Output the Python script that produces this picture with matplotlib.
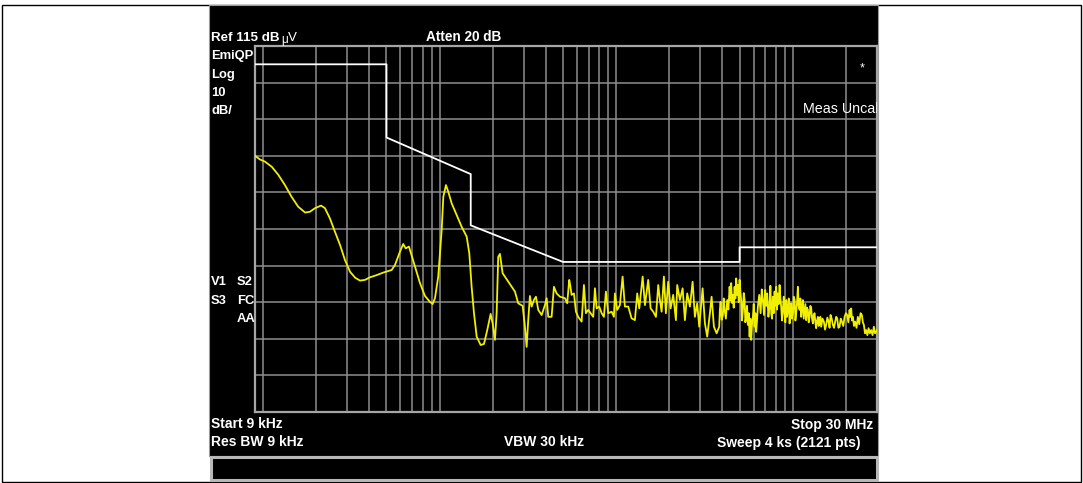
import matplotlib
matplotlib.use("Agg")
import matplotlib.pyplot as plt
from matplotlib.patches import Rectangle
from matplotlib.ticker import LogLocator, NullFormatter, FixedLocator
import numpy as np

# ---------------- data ----------------
# trace, 9 kHz .. 3.83 MHz
trace_freq_low_khz = [
    9.0, 9.6, 10.25, 11.2, 12.2, 13.3, 14.5, 15.8, 17.3, 18.4, 19.7, 21.3, 22.4, 23.9, 25.5,
    27.3, 29.1, 31.1, 33.2, 35.4, 37.8, 40.3, 44.0, 48.0, 53.5, 55.9, 59.6, 62.2, 64.2, 67.0,
    72.5, 77.4, 82.6, 88.1, 91.3, 94.1, 98.2, 102.7, 104.9, 108.6, 111.9, 117.0, 124.9, 133.3,
    142.3, 147.2, 151.8, 156.5, 162.1, 170.7, 178.3, 186.1, 194.5, 199.6, 205.7, 210.3, 214.7,
    219.5, 227.4, 244.7, 267.0, 278.7, 295.2, 304.2, 311.0, 317.5, 324.6, 331.9, 342.0, 351.1,
    361.8, 378.2, 394.8, 403.7, 412.2, 430.7, 443.9, 459.8, 480.1, 512.4, 527.9, 541.9,
    546.9, 559.2, 576.2, 591.5, 609.5, 637.0, 656.5, 673.8, 694.4, 716.4, 741.1, 757.8, 774.8,
    801.5, 827.0, 852.0, 874.5, 901.2, 942.4, 970.6, 983.5, 1013, 1049, 1087, 1120, 1170, 1222,
    1276, 1316, 1351, 1412, 1455, 1518, 1567, 1621, 1679, 1730, 1768, 1808, 1863, 1912, 1970,
    2033, 2103, 2179, 2216, 2295, 2378, 2450, 2525, 2615, 2709, 2791, 2876, 2953, 3086, 3180,
    3277, 3394, 3470, 3576, 3704, 3831,
]
trace_level_low_db = [
    85.0, 84.0, 83.4, 82.0, 79.8, 77.0, 73.8, 71.1, 69.5, 69.7, 70.7, 71.4, 70.7, 67.9, 64.3,
    60.6, 56.5, 53.3, 51.7, 50.9, 51.1, 51.8, 52.4, 53.1, 53.8, 55.2, 58.8, 60.9, 59.7, 60.2,
    54.7, 50.2, 46.7, 45.1, 44.5, 46.1, 52.0, 64.7, 73.8, 77.0, 75.2, 72.0, 68.8, 65.6,
    62.9, 58.4, 49.2, 42.0, 35.6, 33.3, 33.6, 37.4, 41.8, 39.2, 34.7, 42.0, 57.4,
    58.2, 52.9, 50.6, 47.9, 44.7, 44.0, 38.3, 32.8, 40.1, 46.7, 43.8, 45.6, 46.5,
    42.9, 41.5, 44.2, 46.1, 41.0, 41.0, 49.2, 47.4, 46.5, 46.1, 44.7, 51.1,
    50.2, 47.0, 47.4, 42.4, 41.0, 39.7, 49.7, 42.0, 42.9, 42.0, 41.0, 48.8, 43.3,
    43.8, 42.0, 41.0, 47.9, 42.0, 42.4, 41.0, 47.4, 42.9, 44.2, 52.0, 43.8, 43.8, 40.6,
    40.1, 47.4, 43.3, 52.0, 44.2, 51.1, 43.3, 42.4, 41.0, 49.7, 45.6, 42.4, 52.0, 42.0, 50.6,
    43.3, 47.0, 40.1, 49.7, 45.6, 48.8, 40.1, 47.4, 43.8, 50.6, 41.0, 44.7, 38.3, 48.8, 39.2,
    35.6, 42.0, 46.5, 38.3, 36.5, 38.3,
]
# trace, 3.87 MHz .. 14.5 MHz (dense noise band)
trace_freq_mid_khz = [
    3866, 3902, 3960, 4021, 4066, 4111, 4180, 4253, 4320, 4388,
    4434, 4480, 4530, 4580, 4630, 4683, 4732, 4782, 4836, 4890,
    4945, 4999, 5050, 5105, 5160, 5218, 5275, 5335, 5390, 5448,
    5508, 5569, 5630, 5695, 5755, 5815, 5880, 5946, 6010, 6079,
    6140, 6206, 6275, 6346, 6460, 6575, 6675, 6774, 6877, 6980,
    7070, 7165, 7280, 7393, 7470, 7549, 7630, 7718, 7800, 7890,
    7970, 8057, 8145, 8237, 8330, 8421, 8510, 8600, 8695, 8791,
    8890, 8988, 9080, 9178, 9280, 9385, 9490, 9595, 9695, 9798,
    9910, 10020, 10130, 10240, 10350, 10460, 10575, 10690, 10810, 10930,
    11045, 11160, 11285, 11410, 11535, 11660, 11785, 11910, 12045, 12180,
    12315, 12450, 12585, 12720, 12860, 13000, 13145, 13290, 13430, 13570,
    13725, 13880, 14030, 14180, 14330, 14480,
]
trace_level_mid_db = [
    43.0, 45.1, 40.2, 41.5, 46.0, 42.9, 40.5, 45.6, 43.0, 49.2,
    45.5, 50.2, 44.8, 47.0, 43.5, 49.2, 46.0, 51.5, 47.0, 49.7,
    45.0, 51.1, 48.0, 45.6, 40.0, 42.9, 47.5, 45.6, 39.5, 41.0,
    44.0, 38.8, 42.0, 35.6, 40.5, 34.7, 39.0, 41.0, 44.5, 38.3,
    42.0, 36.9, 40.0, 43.8, 47.0, 42.0, 48.5, 45.6, 41.5, 48.3,
    44.0, 47.4, 41.0, 44.2, 49.5, 42.0, 40.5, 46.5, 42.0, 47.9,
    44.0, 49.2, 43.0, 47.4, 44.5, 49.7, 46.0, 43.8, 40.0, 42.9,
    46.5, 42.0, 39.5, 45.6, 41.0, 43.3, 46.0, 39.2, 42.5, 44.7,
    40.5, 42.0, 46.5, 45.6, 40.0, 42.0, 45.0, 49.2, 44.0, 42.9,
    46.0, 41.0, 43.5, 45.6, 40.5, 42.4, 44.5, 40.1, 43.5, 42.9,
    39.5, 41.0, 44.0, 43.3, 40.5, 39.2, 41.5, 42.0, 39.5, 37.9,
    40.0, 41.0, 38.5, 39.2, 41.0, 38.3,
]
# trace, 14.7 MHz .. 30 MHz
trace_freq_high_khz = [
    14740, 15000, 15230, 15460, 15700, 15950, 16160, 16370, 16620, 16870,
    17130, 17390, 17620, 17850, 18130, 18410, 18700, 18980, 19320, 19660,
    20000, 20330, 20650, 20980, 21200, 21420, 21660, 21900, 22230, 22570,
    22970, 23370, 23790, 24210, 24620, 24950, 25280, 25660, 26050, 26460,
    26880, 27340, 27800, 28300, 28800, 29230, 29670, 30000,
]
trace_level_high_db = [
    40.5, 39.7, 37.5, 38.8, 40.8, 39.7, 38.0, 41.5, 40.5, 38.8,
    38.0, 39.7, 41.0, 40.6, 38.0, 38.3, 40.5, 39.7, 38.5, 41.0,
    42.0, 41.5, 39.5, 42.9, 41.0, 43.3, 40.0, 41.0, 38.5, 39.7,
    38.0, 41.0, 39.0, 42.0, 41.5, 39.5, 38.8, 36.5, 37.4, 36.0,
    37.9, 36.5, 37.4, 36.0, 38.3, 36.5, 36.9, 37.4,
]

limit_freq_khz = [9, 50, 50, 150, 150, 500, 5000, 5000, 30000]
limit_level_db = [110, 110, 90, 80, 66, 56, 56, 60, 60]

ref_level_db = 115
db_per_div = 10
n_divs = 10
start_khz = 9
stop_khz = 30000

trace_freq_khz = trace_freq_low_khz + trace_freq_mid_khz + trace_freq_high_khz
trace_level_db = trace_level_low_db + trace_level_mid_db + trace_level_high_db

# ---------------- figure ----------------
W, H = 1083, 483
fig = plt.figure(figsize=(W / 100, H / 100), dpi=100, facecolor="white")


def fx(x):
    return x / W


def fy(y):
    return 1 - y / H


FONT = ["Liberation Sans", "DejaVu Sans"]

# outer thin border
fig.patches.append(Rectangle((fx(1.5), fy(481.5)), fx(1079.5), (480 - 3) / H,
                             transform=fig.transFigure, fill=False,
                             edgecolor="black", lw=1.0, zorder=-3))
# black analyzer panel
fig.patches.append(Rectangle((fx(209), fy(456)), fx(878 - 209), (456 - 4.5) / H,
                             transform=fig.transFigure, facecolor="black",
                             edgecolor="#9a9a9a", lw=0.8, zorder=-3))
# bottom message box
fig.patches.append(Rectangle((fx(210.5), fy(480)), fx(877 - 210.5), (480 - 456.5) / H,
                             transform=fig.transFigure, facecolor="black",
                             edgecolor="#b8b8b8", lw=2.2, zorder=-2))

ax = fig.add_axes([fx(255), fy(412), fx(877 - 255), 366 / H])
ax.set_zorder(1)
ax.set_facecolor("black")
ax.set_xscale("log")
ax.set_xlim(start_khz, stop_khz)
ax.set_ylim(ref_level_db - n_divs * db_per_div, ref_level_db)
ax.xaxis.set_major_locator(LogLocator(base=10, subs=np.arange(1, 10), numticks=100))
ax.xaxis.set_minor_locator(LogLocator(base=10, subs=[], numticks=100))
ax.xaxis.set_major_formatter(NullFormatter())
ax.xaxis.set_minor_formatter(NullFormatter())
ax.yaxis.set_major_locator(FixedLocator(np.arange(ref_level_db - n_divs * db_per_div,
                                                  ref_level_db + 1, db_per_div)))
ax.set_yticklabels([])
ax.tick_params(length=0, which="both")
ax.grid(True, which="major", color="#8e8e8e", lw=1.1)
ax.set_axisbelow(True)
for s in ax.spines.values():
    s.set_color("#a6a6a6")
    s.set_linewidth(1.6)

ax.plot(limit_freq_khz, limit_level_db, color="white", lw=1.3, zorder=3)
ax.plot(trace_freq_khz, trace_level_db, color="#f0f000", lw=1.3, zorder=4)

# ---------------- annotations ----------------
def label(x, y, s, size=10, weight="bold", ha="left", **kw):
    return fig.text(fx(x), fy(y), s, color="white", fontsize=size, fontweight=weight,
                    ha=ha, va="baseline", family=FONT, zorder=5, **kw)


label(211, 41, "Ref 115 dB", size=9.6)
label(281, 43, "\u03bc", size=8.5, weight="normal")
label(288, 41, "V", size=9.6, weight="normal")
label(426, 41, "Atten 20 dB", size=9.8)
label(211, 59.5, "EmiQP", size=9.4)
label(211, 78, "Log", size=9.4)
label(211, 96, "10", size=9.4)
label(211, 114.5, "dB/", size=9.4)
label(211, 285, "V1", size=9.4)
label(237, 285, "S2", size=9.4)
label(211, 303.5, "S3", size=9.4)
label(237, 303.5, "FC", size=9.4)
label(237, 322, "AA", size=9.4)
label(862, 71, "*", size=9, weight="normal", ha="center")
t = label(803, 113, "Meas Uncal", size=10.3, weight="normal")
t.set_clip_box(ax.bbox)
t.set_clip_on(True)

label(211, 428.5, "Start 9 kHz", size=10)
label(873.5, 428.5, "Stop 30 MHz", size=10, ha="right")
label(211, 446.5, "Res BW 9 kHz", size=10)
label(504, 446.5, "VBW 30 kHz", size=10)
label(717, 446.5, "Sweep 4 ks (2121 pts)", size=10)

fig.savefig("out.png", dpi=100, facecolor="white")
